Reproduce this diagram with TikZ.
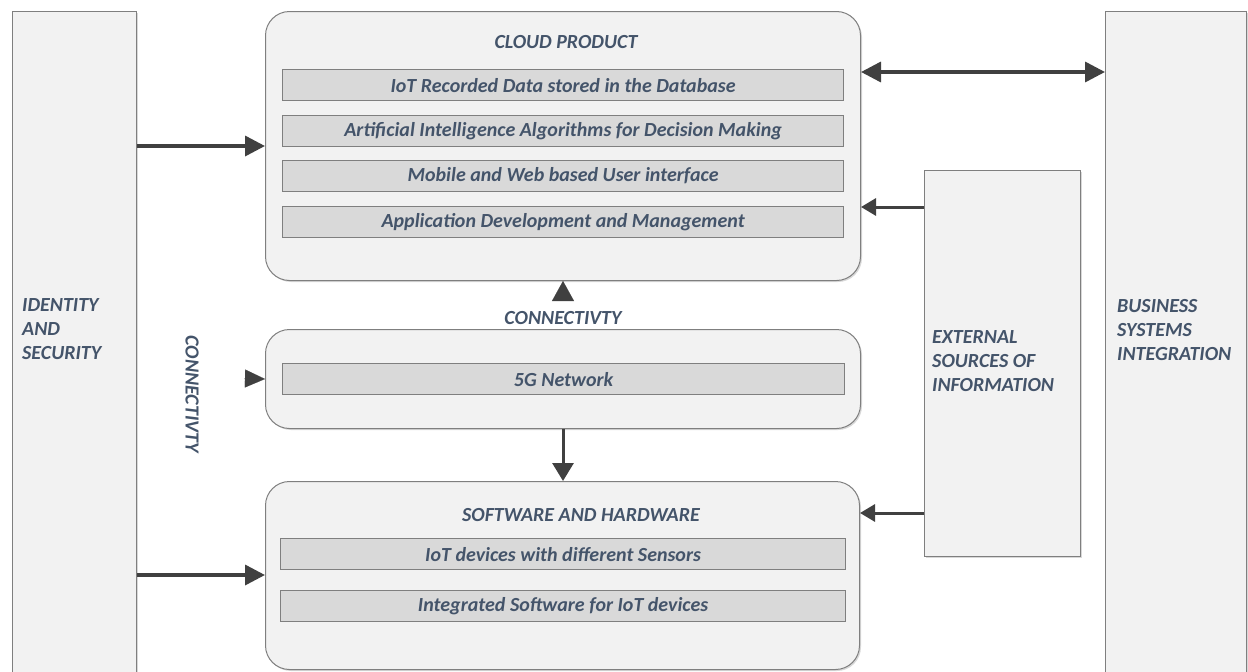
\documentclass[tikz,border=0pt]{standalone}
\usepackage{fontspec}
\setmainfont{Carlito}
\usetikzlibrary{arrows.meta,shadows}
\definecolor{boxfill}{HTML}{F2F2F2}
\definecolor{barfill}{HTML}{D9D9D9}
\definecolor{edgegray}{HTML}{7F7F7F}
\definecolor{ink}{HTML}{44546A}
\definecolor{arrowgray}{HTML}{404040}
\tikzset{
	soft shadow/.style={drop shadow={shadow xshift=1.5pt, shadow yshift=-1.5pt, fill=black!30}},
	column/.style={draw=edgegray, fill=boxfill, line width=1pt, soft shadow},
	panel/.style={column, rounded corners=24pt},
	bar/.style={draw=edgegray, fill=barfill, line width=1.2pt, inner sep=0pt, text=ink,
		font=\bfseries\itshape\fontsize{20}{24}\selectfont},
	heading/.style={text=ink, inner sep=0pt, font=\bfseries\itshape\fontsize{20}{24}\selectfont},
	big arrow/.style={draw=arrowgray, line width=3.5pt, -{Triangle[length=20pt,width=20pt]}},
	small arrow/.style={draw=arrowgray, line width=3pt, -{Triangle[length=15pt,width=17pt]}}
}
\begin{document}
\begin{tikzpicture}[x=1pt, y=-1pt]
	\useasboundingbox (0,0) rectangle (1248,672);
	\clip (0,0) rectangle (1248,672);
	% outer columns
	\node[column, minimum width=124pt, minimum height=690pt, anchor=north west] (ids) at (12,11) {};
	\node[column, minimum width=141pt, minimum height=690pt, anchor=north west] (biz) at (1105,11) {};
	\node[column, minimum width=156pt, minimum height=386pt, anchor=north west] (ext) at (924,170) {};
	% main panels
	\node[panel, minimum width=595pt, minimum height=269pt, anchor=north west] (cloud) at (265,11) {};
	\node[panel, minimum width=595pt, minimum height=99pt, anchor=north west] (net) at (265,329) {};
	\node[panel, minimum width=594pt, minimum height=188pt, anchor=north west] (soft) at (265,481) {};
	% bars
	\node[bar, minimum width=561pt, minimum height=31pt, anchor=north west] (rec) at (282,69) {IoT Recorded Data stored in the Database};
	\node[bar, minimum width=561pt, minimum height=31pt, anchor=north west] (ai) at (282,115) {Artificial Intelligence Algorithms for Decision Making};
	\node[bar, minimum width=561pt, minimum height=31pt, anchor=north west] (ui) at (282,160) {Mobile and Web based User interface};
	\node[bar, minimum width=561pt, minimum height=31pt, anchor=north west] (dev) at (282,206) {Application Development and Management};
	\node[bar, minimum width=562pt, minimum height=31pt, anchor=north west] (fiveg) at (282,363) {5G Network};
	\node[bar, minimum width=565pt, minimum height=31pt, anchor=north west] (sensors) at (280,538) {IoT devices with different Sensors};
	\node[bar, minimum width=565pt, minimum height=31pt, anchor=north west] (swiot) at (280,590) {Integrated Software for IoT devices};
	% headings and labels
	\node[heading] (cloudtitle) at (566,42) {CLOUD PRODUCT};
	\node[heading] (softtitle) at (581,515) {SOFTWARE AND HARDWARE};
	\node[heading] (conntop) at (563,318) {CONNECTIVTY};
	\node[heading, rotate=-90] (connside) at (192,394) {CONNECTIVTY};
	\node[heading, align=left, anchor=west] (idstext) at (22,329) {IDENTITY\\AND\\SECURITY};
	\node[heading, align=left, anchor=west] (exttext) at (932,361) {EXTERNAL\\SOURCES OF\\INFORMATION};
	\node[heading, align=left, anchor=west] (biztext) at (1117,330) {BUSINESS\\SYSTEMS\\INTEGRATION};
	% rows for the connectors
	\coordinate (row a) at (0,72);
	\coordinate (row b) at (0,146);
	\coordinate (row c) at (0,207);
	\coordinate (row d) at (0,513);
	\coordinate (row e) at (0,575);
	\coordinate (uptip) at (563,300);
	\coordinate (lefttip) at (244,378.5);
	% connectors
	\draw[big arrow] (ids.east |- row b) -- (cloud.west |- row b);
	\draw[big arrow] (ids.east |- row e) -- (soft.west |- row e);
	\draw[big arrow, {Triangle[length=20pt,width=20pt]}-{Triangle[length=20pt,width=20pt]}] (cloud.east |- row a) -- (biz.west |- row a);
	\draw[small arrow] (ext.west |- row c) -- (cloud.east |- row c);
	\draw[small arrow] (ext.west |- row d) -- (soft.east |- row d);
	\draw[small arrow, -{Triangle[length=18pt,width=21pt]}] (net.south -| uptip) -- (soft.north -| uptip);
	\draw[draw=arrowgray, line width=0.1pt, -{Triangle[length=20pt,width=22pt]}] (uptip) -- (cloud.south -| uptip);
	\draw[draw=arrowgray, line width=0.1pt, -{Triangle[length=20pt,width=18pt]}] (lefttip) -- (net.west);
\end{tikzpicture}
\end{document}
